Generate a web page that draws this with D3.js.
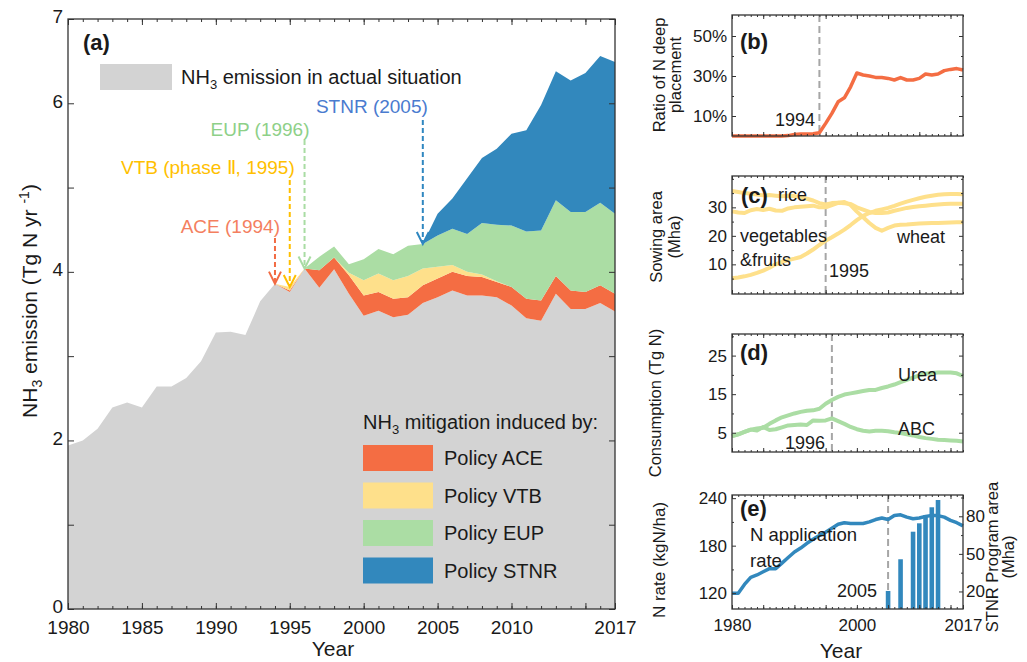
<!DOCTYPE html>
<html>
<head>
<meta charset="utf-8">
<script src="https://cdn.jsdelivr.net/npm/d3@7"></script>
<style>
  body { margin: 0; background: #fff; }
</style>
</head>
<body>
<script>
// ---- data ----
const years = [1980, 1981, 1982, 1983, 1984, 1985, 1986, 1987, 1988, 1989,
  1990, 1991, 1992, 1993, 1994, 1995, 1996, 1997, 1998, 1999,
  2000, 2001, 2002, 2003, 2004, 2005, 2006, 2007, 2008, 2009,
  2010, 2011, 2012, 2013, 2014, 2015, 2016, 2017];

// (a) NH3 emission, Tg N / yr
const actualEmission = [1.94, 2.00, 2.14, 2.39, 2.45, 2.39, 2.64, 2.64, 2.74, 2.94,
  3.28, 3.29, 3.25, 3.65, 3.86, 3.76, 4.04, 3.81, 4.03, 3.74,
  3.48, 3.54, 3.46, 3.49, 3.63, 3.70, 3.78, 3.72, 3.72, 3.70,
  3.60, 3.45, 3.42, 3.74, 3.56, 3.56, 3.63, 3.53];
const mitigationACE = [0, 0, 0, 0, 0, 0, 0, 0, 0, 0,
  0, 0, 0, 0, 0, 0.02, 0, 0.21, 0.14, 0.22,
  0.24, 0.22, 0.22, 0.21, 0.21, 0.22, 0.22, 0.23, 0.22, 0.18,
  0.22, 0.23, 0.24, 0.21, 0.22, 0.20, 0.21, 0.21];
const mitigationVTB = [0, 0, 0, 0, 0, 0, 0, 0, 0, 0,
  0, 0, 0, 0, 0, 0.04, 0, 0, 0, 0.03,
  0.18, 0.22, 0.22, 0.25, 0.20, 0.14, 0.08, 0.05, 0.03, 0.01,
  0, 0, 0, 0, 0, 0, 0, 0];
const mitigationEUP = [0, 0, 0, 0, 0, 0, 0, 0, 0, 0,
  0, 0, 0, 0, 0, 0, 0, 0.16, 0.13, 0.10,
  0.25, 0.29, 0.31, 0.36, 0.29, 0.37, 0.43, 0.45, 0.61, 0.67,
  0.73, 0.80, 0.83, 0.90, 0.93, 0.95, 0.98, 0.95];
const mitigationSTNR = [0, 0, 0, 0, 0, 0, 0, 0, 0, 0,
  0, 0, 0, 0, 0, 0, 0, 0, 0, 0,
  0, 0, 0, 0, 0, 0.26, 0.36, 0.66, 0.77, 0.90,
  1.09, 1.20, 1.49, 1.53, 1.56, 1.65, 1.74, 1.80];

const seriesKeys = ["actual", "ACE", "VTB", "EUP", "STNR"];
const legendNames = ["Policy ACE", "Policy VTB", "Policy EUP", "Policy STNR"];
const annoLabels = ["ACE (1994)", "VTB (phase \u2161, 1995)", "EUP (1996)", "STNR (2005)"];
const annoYears = [1994, 1995, 1996, 2004];

// (b) ratio of N deep placement
const deepPlacement = [0, 0, 0, 0, 0, 0, 0, 0, 0, 0.002,
  0.008, 0.010, 0.010, 0.011, 0.016, 0.063, 0.113, 0.171, 0.191, 0.246,
  0.315, 0.305, 0.300, 0.293, 0.292, 0.288, 0.280, 0.292, 0.280, 0.280,
  0.288, 0.310, 0.305, 0.310, 0.327, 0.333, 0.337, 0.330];

// (c) sowing area, Mha
const riceArea = [35.7, 35.4, 35.0, 34.8, 34.5, 34.2, 34.3, 34.1, 33.9, 34.1,
  34.0, 33.5, 33.0, 32.4, 31.5, 31.0, 31.5, 31.6, 31.4, 31.2,
  30.0, 29.2, 28.4, 28.0, 28.0, 28.2, 28.8, 29.3, 29.8, 30.1,
  30.4, 30.6, 30.8, 31.0, 31.2, 31.3, 31.3, 31.3];
const wheatArea = [28.6, 28.2, 28.0, 29.0, 29.4, 29.1, 29.5, 28.9, 28.8, 29.6,
  30.0, 30.2, 30.4, 30.6, 30.0, 30.0, 30.8, 31.6, 31.9, 30.8,
  28.5, 26.5, 24.5, 22.8, 21.8, 22.8, 23.6, 23.9, 24.0, 24.2,
  24.3, 24.4, 24.5, 24.5, 24.6, 24.7, 24.8, 24.8];
const vegFruitArea = [5.1, 5.4, 5.8, 6.3, 7.0, 7.8, 8.8, 10.0, 10.9, 11.5,
  12.0, 12.6, 13.8, 15.2, 16.8, 18.3, 19.5, 20.8, 22.2, 23.8,
  25.5, 27.0, 28.0, 28.8, 29.3, 29.8, 30.5, 31.3, 32.0, 32.6,
  33.2, 33.7, 34.1, 34.4, 34.6, 34.7, 34.7, 34.6];

// (d) consumption, Tg N
const ureaUse = [4.1, 4.6, 5.2, 5.8, 6.1, 6.3, 7.3, 8.2, 9.0, 9.5,
  10.0, 10.4, 10.7, 10.8, 11.2, 12.5, 13.5, 14.3, 14.9, 15.2,
  15.5, 15.8, 16.1, 16.1, 16.6, 17.0, 17.5, 18.1, 18.7, 19.3,
  19.9, 20.3, 20.5, 20.6, 20.6, 20.6, 20.4, 19.7];
const abcUse = [4.1, 4.6, 5.2, 5.8, 5.6, 6.5, 5.7, 5.9, 6.4, 6.9,
  7.0, 7.1, 7.0, 8.2, 8.1, 8.2, 8.7, 8.0, 7.3, 6.5,
  5.9, 5.5, 5.3, 5.5, 5.5, 5.4, 5.1, 4.9, 4.6, 4.3,
  3.9, 3.6, 3.4, 3.2, 3.1, 3.0, 2.9, 2.7];

// (e) N application rate (kgN/ha) and STNR program area (Mha)
const nRate = [120, 120, 131, 140, 143, 147, 151, 151, 158, 165,
  172, 177, 183, 188, 193, 197, 202, 207, 209, 208,
  208, 208, 210, 213, 215, 213, 218, 219, 216, 214,
  215, 217, 218, 218, 216, 212, 209, 205];
const stnrYears = [2005, 2007, 2009, 2010, 2011, 2012, 2013];
const stnrArea = [20.4, 45.7, 67.7, 74.4, 81.0, 87.2, 93.0];

// ---- setup ----
const FONT = '"Liberation Sans", Arial, Helvetica, sans-serif';
const TXT = "#1a1a1a";

const svg = d3.select("body").append("svg")
  .attr("width", 1027)
  .attr("height", 662)
  .style("font-family", FONT);

svg.append("rect").attr("width", 1027).attr("height", 662).attr("fill", "#fff");

// draws the box plus inward ticks on all four sides
function drawFrame(g, x, y, cfg) {
  const [left, right] = x.range();
  const [bottom, top] = y.range();
  function put(axis, tr, fs) {
    const a = g.append("g").attr("transform", tr).call(axis);
    a.select(".domain").remove();
    a.selectAll("line").attr("stroke", "#333").attr("stroke-width", 1);
    a.selectAll("text").attr("font-size", fs).attr("fill", TXT).attr("font-family", FONT);
    return a;
  }
  const xl = cfg.xLabels || [];
  const yl = cfg.yLabels || [];
  const yfmt = cfg.yFormat || ((d) => d);
  put(d3.axisBottom(x).tickValues(cfg.xMinor).tickSize(-cfg.minor).tickFormat(""), `translate(0,${bottom})`);
  put(d3.axisTop(x).tickValues(cfg.xMinor).tickSize(-cfg.minor).tickFormat(""), `translate(0,${top})`);
  put(d3.axisBottom(x).tickValues(cfg.xMajor).tickSize(-cfg.major).tickPadding(cfg.xPad)
    .tickFormat((d) => (xl.includes(d) ? d : "")), `translate(0,${bottom})`, cfg.fs);
  put(d3.axisTop(x).tickValues(cfg.xMajor).tickSize(-cfg.major).tickFormat(""), `translate(0,${top})`);
  if (cfg.yMinor) {
    put(d3.axisLeft(y).tickValues(cfg.yMinor).tickSize(-cfg.minor).tickFormat(""), `translate(${left},0)`);
    if (!cfg.yRight)
      put(d3.axisRight(y).tickValues(cfg.yMinor).tickSize(-cfg.minor).tickFormat(""), `translate(${right},0)`);
  }
  const ya = put(d3.axisLeft(y).tickValues(cfg.yMajor).tickSize(-cfg.major).tickPadding(5)
    .tickFormat((d) => (yl.includes(d) ? yfmt(d) : "")), `translate(${left},0)`, cfg.fs);
  if (cfg.yDy) ya.selectAll("text").attr("dy", cfg.yDy);
  if (!cfg.yRight)
    put(d3.axisRight(y).tickValues(cfg.yMajor).tickSize(-cfg.major).tickFormat(""), `translate(${right},0)`);
  g.append("rect")
    .attr("x", left).attr("y", top)
    .attr("width", right - left).attr("height", bottom - top)
    .attr("fill", "none").attr("stroke", "#333").attr("stroke-width", 1.3);
  return put;
}

function addText(g, x, y, str, fs, opts = {}) {
  return g.append("text")
    .attr("x", x).attr("y", y)
    .attr("font-size", fs)
    .attr("fill", opts.fill || TXT)
    .attr("font-weight", opts.bold ? "bold" : null)
    .attr("text-anchor", opts.anchor || "start")
    .text(str);
}

function rotLabel(g, x, cy, lines, fs, gap) {
  const t = g.append("text")
    .attr("transform", `translate(${x},${cy}) rotate(-90)`)
    .attr("text-anchor", "middle")
    .attr("font-size", fs)
    .attr("fill", TXT);
  lines.forEach((l, i) => {
    t.append("tspan").attr("x", 0).attr("y", i * gap).text(l);
  });
  return t;
}

// ================= panel (a) =================
const xA = d3.scaleLinear().domain([1980, 2017]).range([68, 615]);
const yA = d3.scaleLinear().domain([0, 7]).range([609, 19]);
const colors = { actual: "#d3d3d3", ACE: "#f46d43", VTB: "#fee08b", EUP: "#abdda4", STNR: "#3288bd" };

const tableA = years.map((yr, i) => ({
  year: yr,
  actual: actualEmission[i],
  ACE: mitigationACE[i],
  VTB: mitigationVTB[i],
  EUP: mitigationEUP[i],
  STNR: mitigationSTNR[i],
}));
const stacked = d3.stack().keys(seriesKeys)(tableA);

const gA = svg.append("g");
const areaA = d3.area()
  .x((d) => xA(d.data.year))
  .y0((d) => yA(d[0]))
  .y1((d) => yA(d[1]));

gA.selectAll(".layer")
  .data(stacked)
  .join("path")
  .attr("class", "layer")
  .attr("fill", (d) => colors[d.key])
  .attr("d", areaA);

// top legend
gA.append("rect").attr("x", 100).attr("y", 64).attr("width", 72).attr("height", 26).attr("fill", colors.actual);
const t1 = addText(gA, 181, 84, "NH", 20);
t1.append("tspan").attr("font-size", 13).attr("dy", 5).text("3");
t1.append("tspan").attr("dy", -5).text(" emission in actual situation");

addText(gA, 83, 50, "(a)", 22, { bold: true });

// policy arrows
const arrowColors = ["#f26b43", "#ffbf00", "#a9dca3", "#2f87c0"];
const textColors = ["#f47f5f", "#ffc000", "#8ed088", "#4a7bcf"];
const arrowStartY = [238, 180, 140, 120];
const annoTextY = [233, 174, 136, 113];
annoYears.forEach((yr, i) => {
  const idx = years.indexOf(yr);
  const top = stacked[stacked.length - 1][idx][1];
  const ax = xA(yr);
  const ay = yA(top);
  gA.append("line")
    .attr("x1", ax).attr("x2", ax)
    .attr("y1", arrowStartY[i]).attr("y2", ay - 2)
    .attr("stroke", arrowColors[i]).attr("stroke-width", 2)
    .attr("stroke-dasharray", "5,3");
  gA.append("path")
    .attr("d", `M${ax - 6},${ay - 12}L${ax},${ay}L${ax + 6},${ay - 12}`)
    .attr("fill", "none").attr("stroke", arrowColors[i]).attr("stroke-width", 2);
  addText(gA, ax + 5, annoTextY[i], annoLabels[i], 19, { fill: textColors[i], anchor: "end" });
});

// mitigation legend
const t2 = addText(gA, 363, 429, "NH", 20);
t2.append("tspan").attr("font-size", 13).attr("dy", 5).text("3");
t2.append("tspan").attr("dy", -5).text(" mitigation induced by:");
legendNames.forEach((name, i) => {
  const cy = 458 + i * 37.5;
  gA.append("rect").attr("x", 363).attr("y", cy - 13).attr("width", 70).attr("height", 26)
    .attr("fill", colors[seriesKeys[i + 1]]);
  addText(gA, 444, cy + 7, name, 20);
});

drawFrame(gA, xA, yA, {
  xMajor: [1980, 1985, 1990, 1995, 2000, 2005, 2010, 2015, 2017],
  xLabels: [1980, 1985, 1990, 1995, 2000, 2005, 2010, 2017],
  xMinor: years,
  yMajor: [0, 1, 2, 3, 4, 5, 6, 7],
  yLabels: [0, 2, 4, 6, 7],
  major: 6, minor: 3, fs: 19, xPad: 12, yDy: "0.2em",
});

const yl = gA.append("text")
  .attr("transform", "translate(37,301) rotate(-90)")
  .attr("text-anchor", "middle")
  .attr("font-size", 21)
  .attr("fill", TXT);
yl.append("tspan").text("NH");
yl.append("tspan").attr("font-size", 14).attr("dy", 5).text("3");
yl.append("tspan").attr("dy", -5).text(" emission (Tg N yr ");
yl.append("tspan").attr("font-size", 14).attr("dy", -8).text("-1");
yl.append("tspan").attr("dy", 8).text(")");
addText(gA, 333, 656, "Year", 21, { anchor: "middle" });

// ================= small panels =================
const xS = d3.scaleLinear().domain([1980, 2017]).range([732, 963]);
const smallX = {
  xMajor: [1980, 1985, 1990, 1995, 2000, 2005, 2010, 2015],
  xMinor: years,
  major: 4, minor: 2, fs: 17, xPad: 10,
};
const dashCol = "#a6a6a6";
function dashLine(g, yr, y) {
  g.append("line")
    .attr("x1", xS(yr)).attr("x2", xS(yr))
    .attr("y1", y.range()[1]).attr("y2", y.range()[0])
    .attr("stroke", dashCol).attr("stroke-width", 2)
    .attr("stroke-dasharray", "7,4");
}
function drawLine(g, y, vals, color, w) {
  g.append("path")
    .datum(vals)
    .attr("fill", "none")
    .attr("stroke", color)
    .attr("stroke-width", w)
    .attr("stroke-linejoin", "round")
    .attr("d", d3.line().x((d, i) => xS(years[i])).y((d) => y(d)));
}

// (b)
const yB = d3.scaleLinear().domain([0, 0.605]).range([136, 15]);
const gB = svg.append("g");
dashLine(gB, 1994, yB);
drawLine(gB, yB, deepPlacement, "#f46d43", 3.5);
drawFrame(gB, xS, yB, Object.assign({}, smallX, {
  yMajor: [0.1, 0.3, 0.5], yLabels: [0.1, 0.3, 0.5], yMinor: [0.2, 0.4],
  yFormat: d3.format(".0%"),
}));
addText(gB, 740, 49, "(b)", 22, { bold: true });
addText(gB, 815, 126, "1994", 18, { anchor: "end" });
rotLabel(gB, 665, 75, ["Ratio of N deep", "placement"], 16.5, 16);

// (c)
const yC = d3.scaleLinear().domain([-0.4, 41]).range([294, 176]);
const gC = svg.append("g");
dashLine(gC, 1995, yC);
[riceArea, wheatArea, vegFruitArea].forEach((s) => drawLine(gC, yC, s, "#fee08b", 4));
drawFrame(gC, xS, yC, Object.assign({}, smallX, {
  yMajor: [10, 20, 30], yLabels: [10, 20, 30], yMinor: [5, 15, 25, 35, 40],
}));
addText(gC, 741, 203, "(c)", 22, { bold: true });
addText(gC, 778, 201, "rice", 18);
addText(gC, 740, 242, "vegetables", 18);
addText(gC, 740, 266, "&fruits", 18);
addText(gC, 897, 243, "wheat", 18);
addText(gC, 829, 277, "1995", 18);
rotLabel(gC, 662, 237, ["Sowing area", "(Mha)"], 16.5, 18);

// (d)
const yD = d3.scaleLinear().domain([0, 30.6]).range([452, 334]);
const gD = svg.append("g");
dashLine(gD, 1996, yD);
drawLine(gD, yD, abcUse, "#abdda4", 4);
drawLine(gD, yD, ureaUse, "#abdda4", 4);
drawFrame(gD, xS, yD, Object.assign({}, smallX, {
  yMajor: [5, 15, 25], yLabels: [5, 15, 25], yMinor: [10, 20, 30],
}));
addText(gD, 740, 360, "(d)", 22, { bold: true });
addText(gD, 898, 381, "Urea", 18);
addText(gD, 898, 435, "ABC", 18);
addText(gD, 825, 449, "1996", 18, { anchor: "end" });
rotLabel(gD, 661, 403, ["Consumption (Tg N)"], 16.5, 0);

// (e)
const yE = d3.scaleLinear().domain([100, 244]).range([609, 495]);
const yE2 = d3.scaleLinear().domain([6, 97]).range([609, 495]);
const gE = svg.append("g");
dashLine(gE, 2005, yE);
gE.selectAll(".bar")
  .data(stnrYears)
  .join("rect")
  .attr("class", "bar")
  .attr("x", (d) => xS(d) - 2.3)
  .attr("width", 4.6)
  .attr("y", (d, i) => yE2(stnrArea[i]))
  .attr("height", (d, i) => yE2(6) - yE2(stnrArea[i]))
  .attr("fill", "#3288bd");
drawLine(gE, yE, nRate, "#3288bd", 3.5);
const putE = drawFrame(gE, xS, yE, Object.assign({}, smallX, {
  xMajor: [1980, 1985, 1990, 1995, 2000, 2005, 2010, 2015, 2017],
  xLabels: [1980, 2000, 2017],
  yMajor: [120, 180, 240], yLabels: [120, 180, 240], yMinor: [150, 210],
  yRight: true,
}));
putE(d3.axisRight(yE2).tickValues([35, 65, 95]).tickSize(-2).tickFormat(""), "translate(963,0)");
putE(d3.axisRight(yE2).tickValues([20, 50, 80]).tickSize(-4).tickPadding(3), "translate(963,0)", 17);
addText(gE, 740, 516, "(e)", 22, { bold: true });
addText(gE, 750, 541, "N application", 18.5);
addText(gE, 750, 567, "rate", 18.5);
addText(gE, 877, 597, "2005", 18, { anchor: "end" });
rotLabel(gE, 665, 560, ["N rate (kgN/ha)"], 17, 0);
rotLabel(gE, 998, 557, ["STNR Program area", "(Mha)"], 16.5, 16);
addText(gE, 841, 658, "Year", 21, { anchor: "middle" });
</script>
</body>
</html>
